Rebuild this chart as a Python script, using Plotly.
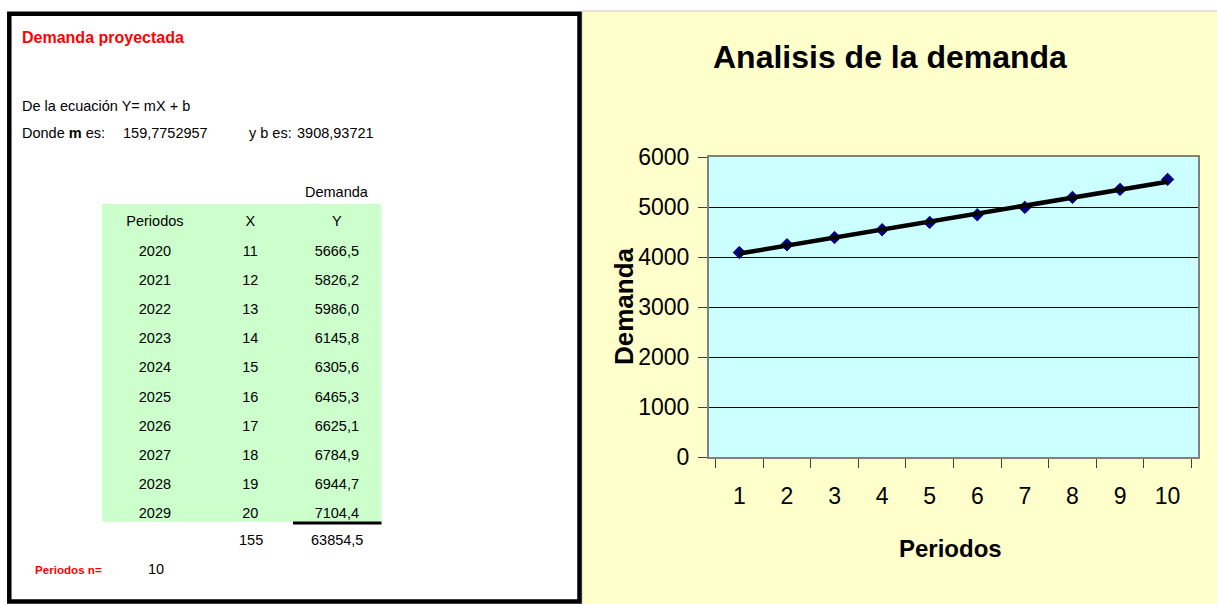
import plotly.graph_objects as go

# ---- data -------------------------------------------------------------
periodos_hist = ["1", "2", "3", "4", "5", "6", "7", "8", "9", "10"]
demanda_hist = [4090, 4245, 4390, 4545, 4692, 4845, 4992, 5192, 5352, 5552]

m_pendiente = 159.7752957
b_intercepto = 3908.93721
m_texto = "159,7752957"
b_texto = "3908,93721"

anios_proy = ["2020", "2021", "2022", "2023", "2024", "2025", "2026", "2027", "2028", "2029"]
x_proy = [11, 12, 13, 14, 15, 16, 17, 18, 19, 20]
y_proy = [5666.5, 5826.2, 5986.0, 6145.8, 6305.6, 6465.3, 6625.1, 6784.9, 6944.7, 7104.4]
n_periodos = 10

y_ticks = [0, 1000, 2000, 3000, 4000, 5000, 6000]

# ---- page geometry helpers (pixels -> paper) --------------------------
W, H = 1217, 604


def px(x):
    return x / W


def py(y):
    return 1 - y / H


def coma(v, dec=1):
    return f"{v:.{dec}f}".replace(".", ",")


SANS = "Liberation Sans, Arial, sans-serif"
BODY = 14.5
ROW_H = 29.2

PLOT_L, PLOT_R, PLOT_T, PLOT_B = 709, 1198, 157, 457

fig = go.Figure()

# ---- chart: observed demand and linear trend --------------------------
fig.add_trace(go.Scatter(
    x=periodos_hist, y=demanda_hist, mode="markers",
    marker=dict(symbol="diamond", size=9.5, color="#000080",
                line=dict(color="#000080", width=1)),
    showlegend=False, hoverinfo="x+y",
))
tendencia = [b_intercepto + m_pendiente * int(p) for p in periodos_hist]
fig.add_trace(go.Scatter(
    x=periodos_hist, y=tendencia, mode="lines",
    line=dict(color="black", width=4.5),
    showlegend=False, hoverinfo="skip",
))

# ---- projection table (text over a green block) -----------------------
tabla_top = 207.5
fig.add_trace(go.Table(
    domain=dict(x=[px(102), px(381.5)], y=[py(tabla_top + 11 * ROW_H + 2), py(tabla_top)]),
    columnwidth=[106, 85, 88.5],
    header=dict(values=["Periodos", "X", "Y"],
                fill_color="rgba(0,0,0,0)", line_color="rgba(0,0,0,0)",
                font=dict(family=SANS, size=BODY, color="black"),
                align="center", height=ROW_H),
    cells=dict(values=[anios_proy, [str(v) for v in x_proy], [coma(v) for v in y_proy]],
               fill_color="rgba(0,0,0,0)", line_color="rgba(0,0,0,0)",
               font=dict(family=SANS, size=BODY, color="black"),
               align="center", height=ROW_H),
))

shapes = [
    # right panel background
    dict(type="rect", xref="paper", yref="paper", layer="below",
         x0=px(582), x1=px(1218), y0=py(605), y1=py(11),
         fillcolor="#FFFFCC", line=dict(color="#C8C8C8", width=1)),
    # plot area fill
    dict(type="rect", xref="paper", yref="paper", layer="below",
         x0=px(PLOT_L), x1=px(PLOT_R), y0=py(PLOT_B), y1=py(PLOT_T),
         fillcolor="#CCFFFF", line=dict(width=0)),
    # green block behind the table
    dict(type="rect", xref="paper", yref="paper", layer="below",
         x0=px(102), x1=px(381.5), y0=py(521.7), y1=py(204),
         fillcolor="#CCFFCC", line=dict(width=0)),
    # left panel frame
    dict(type="rect", xref="paper", yref="paper", layer="above",
         x0=px(9.3), x1=px(579.5), y0=py(601.5), y1=py(13.8),
         fillcolor="rgba(0,0,0,0)", line=dict(color="black", width=4.5)),
    # sum underline
    dict(type="line", xref="paper", yref="paper", layer="above",
         x0=px(293), x1=px(381.5), y0=py(523), y1=py(523),
         line=dict(color="black", width=3)),
]

ann = []


def txt(text, x, y, size=BODY, color="black", family=SANS, xanchor="left", **kw):
    ann.append(dict(text=text, x=px(x), y=py(y), xref="paper", yref="paper",
                    xanchor=xanchor, yanchor="middle", showarrow=False,
                    font=dict(family=family, size=size, color=color), **kw))


# left panel text
txt("<b>Demanda proyectada</b>", 20, 38, size=16, color="#FF0000")
txt("De la ecuación Y= mX + b", 20, 106)
txt("Donde <b>m</b> es:", 20, 133)
txt(m_texto, 121, 133)
txt("y b es:", 247, 133)
txt(b_texto, 295, 133)
txt("Demanda", 337, 192, xanchor="center")
txt(str(sum(x_proy)), 250.5, 540, xanchor="center")
txt(coma(sum(y_proy)), 337, 540, xanchor="center")
txt("<b>Periodos n=</b>", 33, 569, size=11.6, color="#FF0000")
txt(str(n_periodos), 155.5, 569, xanchor="center")

# chart titles
txt("<b>Analisis de la demanda</b>", 890, 57, size=32, xanchor="center")
txt("<b>Periodos</b>", 950, 548, size=24, xanchor="center")
txt("<b>Demanda</b>", 624, 306, size=26, xanchor="center", textangle=-90)

fig.update_layout(
    width=W, height=H,
    margin=dict(l=0, r=0, t=0, b=0, pad=0, autoexpand=False),
    paper_bgcolor="white",
    plot_bgcolor="#CCFFFF",
    shapes=shapes,
    annotations=ann,
    showlegend=False,
    xaxis=dict(
        domain=[px(PLOT_L), px(PLOT_R)],
        type="category",
        categoryorder="array", categoryarray=periodos_hist,
        tickson="boundaries", ticks="outside", ticklen=9, tickcolor="#404040",
        showline=True, linecolor="#808080", linewidth=2, mirror=True,
        showgrid=False, zeroline=False, automargin=False,
        tickfont=dict(family=SANS, size=23, color="black"),
        ticklabelstandoff=17,
        fixedrange=True,
    ),
    yaxis=dict(
        domain=[py(PLOT_B), py(PLOT_T)],
        range=[0, 6000], tickvals=y_ticks,
        ticks="outside", ticklen=9, tickcolor="#404040",
        showline=True, linecolor="#808080", linewidth=2, mirror=True,
        showgrid=True, gridcolor="black", gridwidth=1, zeroline=False,
        automargin=False,
        tickfont=dict(family=SANS, size=23, color="black"),
        ticklabelstandoff=4,
        fixedrange=True,
    ),
)

fig.write_html("out.html")
